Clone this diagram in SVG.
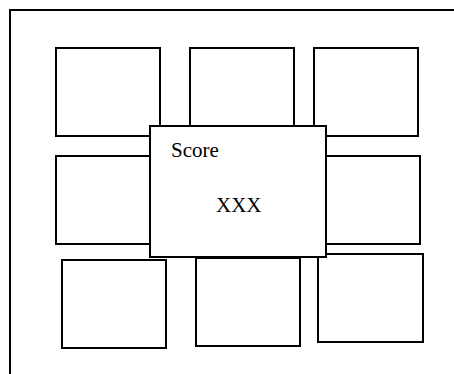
<svg xmlns="http://www.w3.org/2000/svg" width="454" height="374" viewBox="0 0 454 374">
  <style>
    .frame { fill: none; stroke: #000; stroke-width: 2; }
    .tile { fill: #fff; stroke: #000; stroke-width: 2; }
    .label { font-family: "Liberation Serif", "Times New Roman", serif; font-size: 21px; fill: #000; }
  </style>
  <rect width="454" height="374" fill="#fff"/>
  <!-- outer frame, running off the right and bottom edges -->
  <path class="frame" d="M10,374 V10 H454"/>

  <!-- top row -->
  <g id="tile-top-left"><rect class="tile" x="56" y="48" width="104" height="88"/></g>
  <g id="tile-top-middle"><rect class="tile" x="190" y="48" width="104" height="88"/></g>
  <g id="tile-top-right"><rect class="tile" x="314" y="48" width="104" height="88"/></g>

  <!-- middle row -->
  <g id="tile-middle-left"><rect class="tile" x="56" y="156" width="104" height="88"/></g>
  <g id="tile-middle-right"><rect class="tile" x="316" y="156" width="104" height="88"/></g>

  <!-- bottom row -->
  <g id="tile-bottom-left"><rect class="tile" x="62" y="260" width="104" height="88"/></g>
  <g id="tile-bottom-middle"><rect class="tile" x="196" y="258" width="104" height="88"/></g>
  <g id="tile-bottom-right"><rect class="tile" x="318" y="254" width="105" height="88"/></g>

  <!-- score panel on top of the grid -->
  <g id="score-panel">
    <rect class="tile" x="150" y="126" width="176" height="131"/>
    <text class="label" x="171" y="157">Score</text>
    <text class="label" x="216" y="212">XXX</text>
  </g>
</svg>
